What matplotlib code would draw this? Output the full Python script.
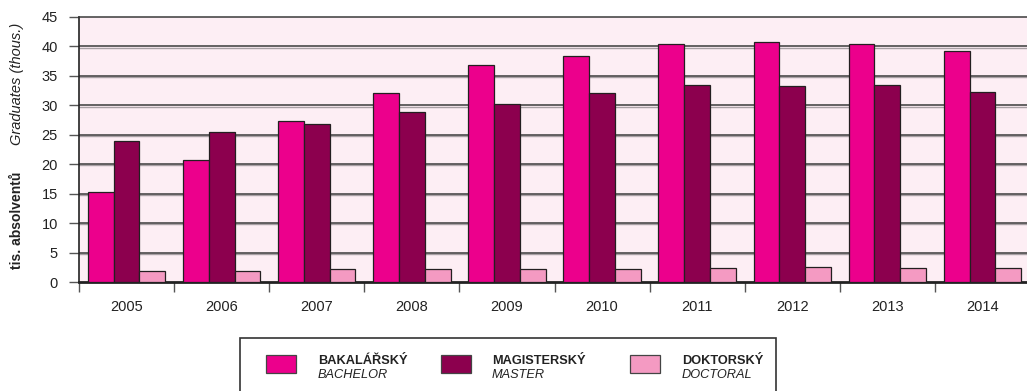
import numpy as np
import matplotlib
matplotlib.use("Agg")
import matplotlib.pyplot as plt
import matplotlib.transforms as mtransforms
from matplotlib.patches import Rectangle

plt.rcParams['font.family'] = ['Liberation Sans', 'DejaVu Sans']

years = ['2005', '2006', '2007', '2008', '2009', '2010', '2011', '2012', '2013', '2014']
bachelor = [15.2, 20.8, 27.3, 32.1, 36.8, 38.4, 40.4, 40.7, 40.4, 39.3]
master = [23.9, 25.4, 26.8, 28.9, 30.2, 32.1, 33.4, 33.2, 33.5, 32.3]
doctoral = [1.9, 1.9, 2.2, 2.25, 2.25, 2.2, 2.4, 2.5, 2.4, 2.4]

series_cz = ['BAKALÁŘSKÝ', 'MAGISTERSKÝ', 'DOKTORSKÝ']
series_en = ['BACHELOR', 'MASTER', 'DOCTORAL']
colors = ['#EC008C', '#8C004E', '#F49AC2']
yticks = [0, 5, 10, 15, 20, 25, 30, 35, 40, 45]

W, H = 1027, 391
fig = plt.figure(figsize=(W / 100, H / 100), dpi=100)
ax = fig.add_axes([79 / W, 1 - 282 / H, 951 / W, 265 / H])
ax.set_facecolor('#FDEEF4')

n = len(years)
x = np.arange(n) + 0.5
bw = 0.271
edge = '#231F20'
for k, (vals, col) in enumerate(zip([bachelor, master, doctoral], colors)):
    ax.bar(x + (k - 1) * bw, vals, width=bw, color=col, edgecolor=edge,
           linewidth=0.9, zorder=3)

ax.set_xlim(0, n)
ax.set_ylim(0, 45)
ax.set_yticks(yticks)
ax.set_yticklabels([str(v) for v in yticks])

# gridlines with a faint shadow below
shadow = mtransforms.offset_copy(ax.transData, fig=fig, x=0, y=-1.2, units='dots')
for v in yticks[1:-1]:
    ax.axhline(v, color='#3a3a3a', linewidth=1.1, zorder=1)
    ax.plot([0, n], [v, v], color='#a8a0a4', linewidth=1.0, zorder=0.9, transform=shadow)

ax.set_xticks(np.arange(n + 1))
ax.set_xticklabels([])
ax.set_xticks(x, minor=True)
ax.set_xticklabels(years, minor=True)
ax.tick_params(axis='x', which='major', length=7, width=1, color='#555555', direction='out')
ax.tick_params(axis='x', which='minor', length=0, pad=13, labelsize=10.5, labelcolor='#222222')
ax.tick_params(axis='y', length=7.2, width=1, color='#555555', pad=8, labelsize=10.5,
               labelcolor='#222222')

ax.spines['right'].set_visible(False)
ax.spines['top'].set_color('#3a3a3a')
ax.spines['top'].set_linewidth(1.1)
ax.spines['left'].set_color('#222222')
ax.spines['left'].set_linewidth(1.2)
ax.spines['bottom'].set_color('#222222')
ax.spines['bottom'].set_linewidth(2)

# y-axis labels
fig.text(17 / W, 1 - 220 / H, 'tis. absolventů', rotation=90, ha='center', va='center',
         fontsize=10, fontweight='bold', color='#222222')
fig.text(17 / W, 1 - 84 / H, 'Graduates (thous.)', rotation=90, ha='center', va='center',
         fontsize=10.5, fontstyle='italic', color='#222222')

# legend box
fig.add_artist(Rectangle((240 / W, 1 - 400 / H), 536 / W, 62 / H, transform=fig.transFigure,
                         facecolor='white', edgecolor='#333333', linewidth=1.2))
patch_x = [266, 441, 630]
text_x = [318, 492, 682]
for px, tx, col, cz, en in zip(patch_x, text_x, colors, series_cz, series_en):
    fig.add_artist(Rectangle((px / W, 1 - 373 / H), 30 / W, 18 / H, transform=fig.transFigure,
                             facecolor=col, edgecolor='#444444', linewidth=0.9))
    fig.text(tx / W, 1 - 364 / H, cz, fontsize=9.2, fontweight='bold', color='#222222',
             ha='left', va='baseline')
    fig.text(tx / W, 1 - 378 / H, en, fontsize=9.2, fontstyle='italic', color='#222222',
             ha='left', va='baseline')

fig.savefig('out.png', dpi=100)
